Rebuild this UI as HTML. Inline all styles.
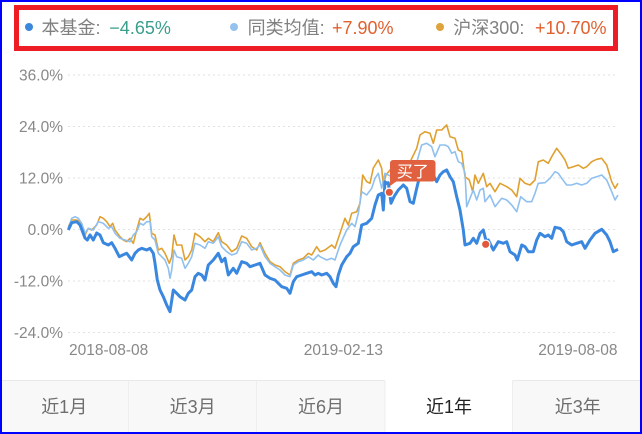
<!DOCTYPE html>
<html><head><meta charset="utf-8"><style>
html,body{margin:0;padding:0;background:#fff;}
#root{position:relative;width:642px;height:434px;overflow:hidden;background:#fff;}
svg{position:absolute;left:0;top:0;}
text{font-family:"Liberation Sans","Noto Sans CJK SC",sans-serif;}
</style></head><body><div id="root">
<svg width="642" height="434" viewBox="0 0 642 434" xmlns="http://www.w3.org/2000/svg">
<!-- legend -->
<circle cx="29" cy="27" r="4" fill="#3c87dc"/>
<text x="41.5" y="34" font-size="18" fill="#808080">本基金:</text>
<text x="109.3" y="34" font-size="18" fill="#3a9e8d">−4.65%</text>
<circle cx="234" cy="27" r="4" fill="#94c2ee"/>
<text x="247.6" y="34" font-size="18" fill="#808080">同类均值:</text>
<text x="332" y="34" font-size="18" fill="#e0602e">+7.90%</text>
<circle cx="440" cy="27" r="4" fill="#e0a23c"/>
<text x="453.3" y="34" font-size="18" fill="#808080">沪深300:</text>
<text x="535" y="34" font-size="18" fill="#e0602e">+10.70%</text>
<rect x="16.5" y="7.5" width="599" height="41" fill="none" stroke="#ee1c24" stroke-width="5"/>

<!-- grid -->
<g stroke="#e2e2e2" stroke-width="1" stroke-dasharray="2,3">
<line x1="68" y1="75" x2="618" y2="75"/>
<line x1="68" y1="126.5" x2="618" y2="126.5"/>
<line x1="68" y1="178" x2="618" y2="178"/>
<line x1="68" y1="229.5" x2="618" y2="229.5"/>
<line x1="68" y1="281" x2="618" y2="281"/>
<line x1="68" y1="332.5" x2="618" y2="332.5"/>
</g>
<g font-size="15.5" fill="#888" text-anchor="end">
<text x="63" y="80.5">36.0%</text>
<text x="63" y="132">24.0%</text>
<text x="63" y="183.5">12.0%</text>
<text x="63" y="235">0.0%</text>
<text x="63" y="286.5">-12.0%</text>
<text x="63" y="338">-24.0%</text>
</g>
<g font-size="15.5" fill="#888">
<text x="69" y="355">2018-08-08</text>
<text x="383" y="355" text-anchor="end">2019-02-13</text>
<text x="617.5" y="355" text-anchor="end">2019-08-08</text>
</g>

<!-- series -->
<polyline fill="none" stroke="#e0a030" stroke-width="1.6" stroke-linejoin="round" points="68.3,226.7 71.7,220 76.7,220 80,221.7 85,235 88.3,228.3 91.7,230 96.7,225 100,216.7 103.3,218.3 106.7,221.7 110,226.7 112.7,223.3 115,230 120,236.7 123.3,240 126.7,241.7 130,238.3 133.3,243.3 136.7,230 140,218.3 143.3,220 146.7,216.7 149.3,213.3 151.7,233.3 155,235 158.3,250 161.7,248.3 165,253.3 169.3,263.3 171.7,256.7 174,235 176.7,245 181.7,245 185,260 188.3,256.7 191.7,250 195,233.3 200,236.7 205,241.7 208.3,238.3 213.3,241.7 218.3,232.7 221.7,241.7 226.7,245 231.7,251.7 236.7,248.3 241.7,236 246.7,238.3 251.7,246.7 256.7,250 260,242.7 265,253.3 270,261.7 275,265 280,266.7 285,271.7 290,275 293.3,263.3 298.3,260 303.3,258.3 308.3,253.3 311.7,255 316.7,246.7 320,251.7 325,250 331.7,245 335,248.3 340,233.3 345,218.3 348.3,225 351.7,213.3 356.7,211.7 360,203.3 362.7,175 366.7,181.7 370,183.3 373.3,168 378.3,160 381.7,168.3 383.3,185 386,175 390,170 400,165 410,162 416.7,148.3 420,135 425,131.7 430,133.3 433.3,143.3 436.7,130 441.7,130 446.7,125 450,136.7 455,138.3 458.3,150 461.7,151.7 465,176.7 469.3,180 472.7,191.7 475,175 478.3,183.3 483.3,173.3 486.7,186.7 490,183.3 495,191.7 500,183.3 506.7,186.7 511.7,190 516.7,196.7 520,178.3 525,183.3 530,185 535,180 538.3,161.7 543.3,160 548.3,163.3 551.7,156.7 556.7,148.3 561.7,155 565,160 568.3,168.3 573.3,166.7 578.3,165 583.3,168.3 586.7,166.7 591.7,161.7 596.7,159.3 601.7,158.3 606.7,165 611.7,181.7 615,188.3 618,183.3"/>
<polyline fill="none" stroke="#8fc0ef" stroke-width="1.6" stroke-linejoin="round" points="68.3,228.3 71.7,218.3 75,216.7 78.3,218.3 81.7,223.3 85,233.3 88.3,228.3 93.3,230 98.3,221.7 103.3,223.3 108.3,228.3 111.7,226.7 115,233.3 120,238.3 125,240 130,241.7 133.3,235 136.7,231.7 140,223.3 143.3,225 146.7,221.7 150,221.7 151.7,236.7 155,240 158.3,253.3 161.7,256.7 165,260 168.3,268.3 170,278.3 171.7,270 174,250 176.7,256.7 181.7,258.3 185,268.3 188.3,263.3 191.7,256.7 195,243.3 200,245 205,248.3 208.3,241.7 213.3,243.3 218.3,236.7 221.7,246.7 226.7,251.7 231.7,255 236.7,253.3 241.7,241.7 246.7,243.3 251.7,250 256.7,248.3 260,245 265,256.7 270,263.3 275,266.7 280,270 285,275 290,276.7 293.3,265 298.3,261.7 303.3,260 308.3,256.7 313.3,260 318.3,255 320,256.7 326.7,260 331.7,258.3 335,260 340,245 346.7,230 351.7,223.3 355,226.7 358.3,213.3 361.7,191.7 366.7,195 371.7,188.3 375,178.3 378.3,173.3 381.7,188.3 385,173.3 388.3,175 395,178.3 401.7,175 408.3,178.3 413.3,175 418.3,156.7 421.7,145 426.7,143.3 431.7,146.7 435,156.7 440,145 445,145 448.3,146.7 451.7,153.3 455,151.7 458.3,161.7 461.7,163.3 465,173.3 466.7,206.7 470,198.3 473.3,190 476.7,200 480,190 483.3,188.3 485,201.7 490,195 495,206.7 501.7,198.3 506.7,200 511.7,205 516.7,211.7 520.7,196.7 526.7,201.7 531.7,201.7 535,193.3 538.3,183.3 545,182.7 550,178.3 555,171.7 558.3,173.3 561.7,178.3 566.7,185 571.7,185 576.7,183.3 581.7,185 586.7,183.3 591.7,178.3 596.7,176.7 601.7,175 606.7,180 611.7,191.7 615,200 618,195"/>
<polyline fill="none" stroke="#3a87df" stroke-width="3" stroke-linejoin="round" points="68.3,230 71.7,222.7 76.7,221.7 80,225 85,238 87.3,240 90,235 93.3,240 96.7,233 100,235 103.3,242.7 108.3,245 111.7,242.7 115,248.3 119.3,256.7 122.7,255 126.7,253.3 131.7,260 135,253.3 138.3,250 141.7,248.3 146.7,250 150,248.3 153.3,253.3 155,263.3 157.3,280 160,290 163.3,296.7 166.7,305 170,311.7 173.3,290 176.7,293.3 180,296.7 185,300 188.3,293.3 191.7,290 195,276.7 198.3,273.3 201.7,275 205,280 208.3,265 213.3,260 218.3,253.3 221.7,261.7 225,258.3 228.3,275 233.3,268.3 236.7,273.3 241.7,261.7 246.7,263.3 250,266.7 255,265 260,263.3 265,275 270,278.3 275,280 281.7,286.7 286.7,288.3 290,293.3 293.3,281.7 296.7,276.7 301.7,275 306.7,273.3 311.7,271.7 315,275 318.3,273.3 321.7,275 326.7,273.3 330,276.7 333.3,283.3 336,286.7 338.3,275 341.7,265 346.7,256.7 350,253.3 353.3,246.7 358.3,243.3 361.7,225 366.7,223.3 371.7,218.3 375,205 378.3,195 381.7,193.3 383.3,210 385,181.7 386.7,183.3 388.3,182.7 391,203.3 394,196.7 398.3,190 403.3,185 406.7,188.3 410,201.7 413.3,203.3 416.7,188.3 420,175 423.3,173.3 428.3,176.7 433.3,175 436.7,181.7 440,175 443.3,171.7 446.7,170 450,176.7 453.3,181.7 456.7,196.7 460,210 463.3,230 465,245 470,243.3 473.3,238.3 476.7,243.3 480,233.3 483.3,230 486.7,243.3 488.3,240 493.3,250 498.3,241.7 503.3,243.3 506.7,241.7 510,251.7 515,255 517.3,260 521.7,245 525,246.7 528.3,251.7 533.3,251.7 536.7,240 540,233.3 545,236.7 548.3,235 551.7,238.3 555,227.3 560,228.3 563.3,231.7 566.7,241.7 571.7,245 576.7,243.3 581.7,241.7 585,248.3 590,240 595,233.3 601.7,229.3 606.7,235 610,241.7 613.3,251.7 618,249.3"/>

<!-- markers -->
<circle cx="389.3" cy="192.3" r="4.2" fill="#e2583a" stroke="#fff" stroke-width="1.2"/>
<circle cx="485.7" cy="244.3" r="4.2" fill="#e2583a" stroke="#fff" stroke-width="1.2"/>
<path d="M390,176 L390,186 L397,181 Z" fill="#e0603f"/>
<rect x="390" y="160" width="45.5" height="21.5" rx="3" fill="#e0603f"/>
<text x="412.7" y="177" font-size="16" fill="#fff" text-anchor="middle">买了</text>

<!-- tabs -->
<rect x="0" y="380" width="385" height="54" fill="#f8f8f8"/>
<rect x="512.5" y="380" width="130" height="54" fill="#f8f8f8"/>
<line x1="0" y1="380.5" x2="385" y2="380.5" stroke="#e9e9e9"/>
<line x1="512.5" y1="380.5" x2="642" y2="380.5" stroke="#e9e9e9"/>
<g stroke="#eeeeee">
<line x1="128.5" y1="381" x2="128.5" y2="434"/>
<line x1="256.5" y1="381" x2="256.5" y2="434"/>
<line x1="385" y1="381" x2="385" y2="434"/>
<line x1="512.5" y1="381" x2="512.5" y2="434"/>
</g>
<g font-size="18" text-anchor="middle" fill="#6e6e6e">
<text x="64.2" y="413">近1月</text>
<text x="192.6" y="413">近3月</text>
<text x="321" y="413">近6月</text>
<text x="449" y="413" fill="#222">近1年</text>
<text x="577.8" y="413">近3年</text>
</g>

<!-- outer blue frame -->
<rect x="1" y="1" width="640" height="432" fill="none" stroke="#0000ff" stroke-width="2"/>
</svg>
</div></body></html>
